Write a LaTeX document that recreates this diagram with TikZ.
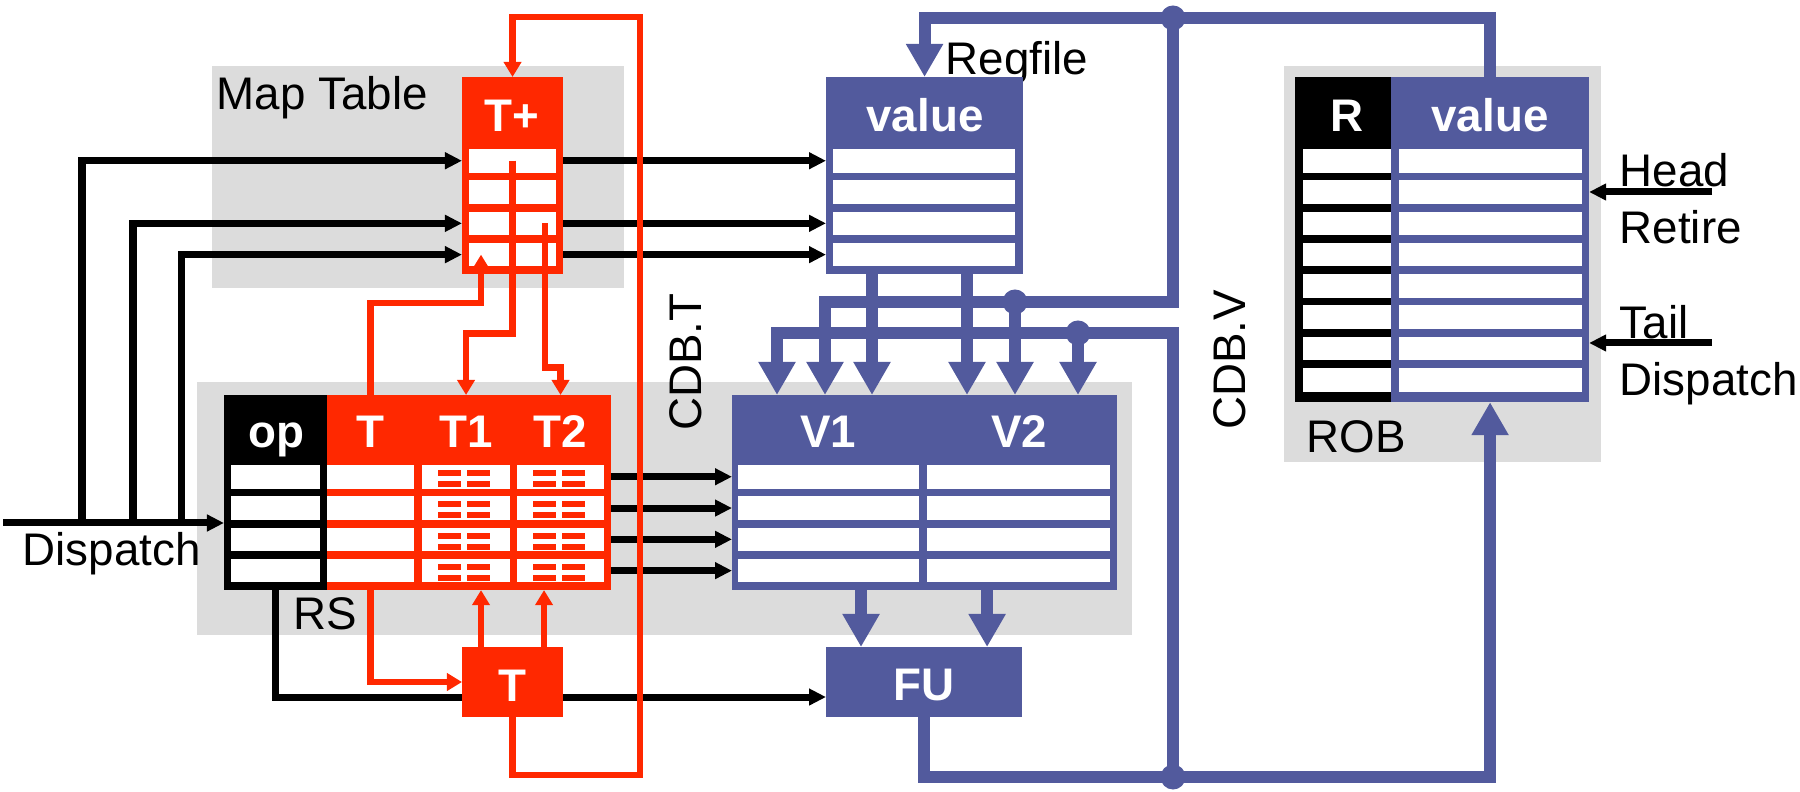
\documentclass[tikz,border=0pt]{standalone}
\usepackage{fontspec}
\setmainfont{Liberation Sans}
\usetikzlibrary{arrows.meta, calc, positioning}
\definecolor{tagRed}  {RGB}{255, 40,  0}
\definecolor{valBlue} {RGB}{ 82, 90,157}
\definecolor{areaGray}{RGB}{220,220,220}
\newcommand{\lblfont}{\fontsize{13}{15.6}\selectfont}

\begin{document}
\begin{tikzpicture}[
  x=0.01cm, y=-0.01cm,
  area/.style={rectangle, fill=areaGray, inner sep=0pt, outer sep=0pt,
    anchor=north west},
  tbl/.style={rectangle, inner sep=0pt, outer sep=0pt, anchor=north west},
  cell/.style={rectangle, fill=white, inner sep=0pt, outer sep=0pt,
    anchor=north west, minimum height=0.235cm},
  hdr/.style={font=\lblfont\bfseries, text=white, anchor=base, inner sep=0pt},
  lbl/.style={font=\lblfont, anchor=base west, inner sep=0pt},
  vlbl/.style={font=\lblfont, rotate=90, inner sep=0pt},
  blk/.style={-{Triangle[length=0.17cm, width=0.16cm]}, line width=0.07cm},
  tag/.style={draw=tagRed, line width=0.065cm},
  tagarr/.style={tag, -{Triangle[length=0.15cm, width=0.17cm]}},
  val/.style={draw=valBlue, line width=0.12cm},
  valarr/.style={val, -{Triangle[length=0.33cm, width=0.35cm]}},
  dot/.style={circle, fill=valBlue, inner sep=0pt, minimum size=0.25cm},
]
\useasboundingbox (0,0) rectangle (1800,792);

%% ── Grey areas and their labels ──────────────────────────────────────────────
\node[area, minimum width=4.12cm, minimum height=2.22cm] (mapArea) at (212,66) {};
\node[area, minimum width=9.34cm, minimum height=2.53cm] (rsArea)  at (197,382) {};
\node[area, minimum width=3.17cm, minimum height=3.96cm] (robArea) at (1284,66) {};

\node[lbl] (mapLbl)  at (216,110)  {Map Table};
\node[lbl] (rsLbl)   at (293,630)  {RS};
\node[lbl] (robLbl)  at (1306,453) {ROB};
\node[lbl] (regLbl)  at (945,75)   {Regfile};
\node[lbl] (dispLbl) at (22,566)   {Dispatch};
\node[lbl] (headLbl) at (1619,187) {Head};
\node[lbl] (retLbl)  at (1619,244) {Retire};
\node[lbl] (tailLbl) at (1619,339) {Tail};
\node[lbl] (dispRLbl) at (1619,396) {Dispatch};
\node[vlbl] (cdbTLbl) at (686,362)  {CDB.T};
\node[vlbl] (cdbVLbl) at (1230,360) {CDB.V};

%% ── Map table T+ ─────────────────────────────────────────────────────────────
\node[tbl, fill=tagRed, minimum width=1.01cm, minimum height=1.97cm] (tplus) at (462,77) {};
\node[hdr] (tplusH) at (512,132) {T+};
\foreach \i in {1,...,4}
  \node[cell, minimum width=0.87cm] (tp\i) at (469,{149+31.3*(\i-1)}) {};

%% ── Regfile ──────────────────────────────────────────────────────────────────
\node[tbl, fill=valBlue, minimum width=1.97cm, minimum height=1.97cm] (reg) at (826,77) {};
\node[hdr] (regH) at (925,132) {value};
\foreach \i in {1,...,4}
  \node[cell, minimum width=1.82cm] (rg\i) at (833,{149+31.3*(\i-1)}) {};

%% ── RS: op / T / T1 / T2 and V1 / V2 ─────────────────────────────────────────
\node[tbl, fill=black,  minimum width=1.03cm, minimum height=1.95cm] (op)   at (224,395) {};
\node[tbl, fill=tagRed, minimum width=2.84cm, minimum height=1.95cm] (rst)  at (327,395) {};
\node[tbl, fill=valBlue, minimum width=3.85cm, minimum height=1.95cm] (vtab) at (732,395) {};
\node[hdr] (opH)  at (276,448)  {op};
\node[hdr] (rsTH) at (370,448)  {T};
\node[hdr] (rsAH) at (466,448)  {T1};
\node[hdr] (rsBH) at (560,448)  {T2};
\node[hdr] (vaH)  at (828,448)  {V1};
\node[hdr] (vbH)  at (1019,448) {V2};
\foreach \i in {1,...,4} {
  \pgfmathsetmacro{\rowy}{465+31.3*(\i-1)}
  \node[cell, minimum width=0.89cm] (op\i)  at (231,\rowy) {};
  \node[cell, minimum width=0.87cm] (rsT\i) at (327,\rowy) {};
  \node[cell, minimum width=0.88cm] (rsA\i) at (422,\rowy) {};
  \node[cell, minimum width=0.87cm] (rsB\i) at (517,\rowy) {};
  \node[cell, minimum width=1.81cm] (va\i)  at (738,\rowy) {};
  \node[cell, minimum width=1.83cm] (vb\i)  at (927,\rowy) {};
}
% tag comparators in T1 / T2
\foreach \i in {1,...,4}
  \foreach \c in {rsA,rsB}
    \foreach \dx in {16,45}
      \foreach \dy in {5,16}
        \fill[tagRed] ([shift={(\dx,\dy)}]\c\i.north west) rectangle ++(23,6);

%% ── FU ───────────────────────────────────────────────────────────────────────
\node[tbl, fill=valBlue, minimum width=1.96cm, minimum height=0.70cm] (fu) at (826,647) {};
\node[hdr] (fuH) at (924,701) {FU};

%% ── ROB ──────────────────────────────────────────────────────────────────────
\node[tbl, fill=black,   minimum width=0.96cm, minimum height=3.25cm] (robR) at (1295,77) {};
\node[tbl, fill=valBlue, minimum width=1.98cm, minimum height=3.25cm] (robV) at (1391,77) {};
\node[hdr] (robRH) at (1347,132) {R};
\node[hdr] (robVH) at (1490,132) {value};
\foreach \i in {1,...,8} {
  \pgfmathsetmacro{\rowy}{149+31.3*(\i-1)}
  \node[cell, minimum width=0.88cm] (rr\i) at (1303,\rowy) {};
  \node[cell, minimum width=1.83cm] (rv\i) at (1399,\rowy) {};
}

%% ── Black dispatch paths ─────────────────────────────────────────────────────
\coordinate (dispIn) at (3,523);
\coordinate (headIn) at (1712,192);
\coordinate (tailIn) at (1712,343);
\draw[blk] (dispIn) -- (dispIn -| op.west);
\foreach \x/\r in {82/1, 133/3, 181/4} {
  \coordinate (br\r) at (\x,523);
  \draw[blk] (br\r) |- (tplus.west |- tp\r);
}
\foreach \r in {1,3,4}
  \draw[blk] (tplus.east |- tp\r) -- (reg.west |- tp\r);
\foreach \i in {1,...,4}
  \draw[blk] (rst.east |- rsB\i) -- (vtab.west |- rsB\i);
\draw[blk] (op.south) |- ([yshift=-0.15cm]fu.west);
\draw[blk] (headIn) -- (robV.east |- headIn);
\draw[blk] (tailIn) -- (robV.east |- tailIn);

%% ── Tag box T ────────────────────────────────────────────────────────────────
\node[tbl, fill=tagRed, minimum width=1.01cm, minimum height=0.70cm] (tbox) at (462,647) {};
\node[hdr] (tboxH) at (512,702) {T};

%% ── Red tag paths, CDB.T ─────────────────────────────────────────────────────
\coordinate (cdbTlo) at (640,775);
\coordinate (cdbThi) at (640,17);
\draw[tagarr] (tbox.south) |- (cdbTlo) -- (cdbThi) -| (tplus.north);
\draw[tagarr] (rsT1 |- rst.north) -- ++(0,-92) -| ([xshift=-0.315cm]tp4.center);
\draw[tagarr] (tp1.center) -- ++(0,173) -| (rsA1 |- rst.north);
\draw[tagarr] ([xshift=0.325cm]tp3.center) -- ++(0,144) -| (rsB1 |- rst.north);
\draw[tagarr] (rsT4 |- rst.south) |- (tbox.west);
\draw[tagarr] ([xshift=-0.315cm]tbox.north) -- ([xshift=-0.315cm]tbox.north |- rst.south);
\draw[tagarr] ([xshift=0.315cm]tbox.north)  -- ([xshift=0.315cm]tbox.north |- rst.south);

%% ── Blue value paths, CDB.V ──────────────────────────────────────────────────
\foreach \n/\x in {v1a/777, v1b/825, v1c/872, v2a/967, v2b/1015, v2c/1078}
  \coordinate (\n) at (\x,395);
\node[dot] (jTop) at (1173,18)  {};
\node[dot] (jV2b) at (1015,302) {};
\node[dot] (jV2c) at (1078,333) {};
\node[dot] (jBot) at (1173,777) {};

\draw[valarr] (robV.north) -- ++(0,-59) -| (reg.north);
\draw[valarr] (jTop.center) |- (jV2b.center) -| (v1b);
\draw[valarr] (jV2b.center) -- (v2b);
\draw[valarr] (reg.south -| v1c) -- (v1c);
\draw[valarr] (reg.south -| v2a) -- (v2a);
\draw[valarr] (fu.south) -- ++(0,60) -| (robV.south);
\draw[valarr] (jBot.center) |- (jV2c.center) -| (v1a);
\draw[valarr] (jV2c.center) -- (v2c);
\draw[valarr] ([xshift=-0.63cm]fu.north |- vtab.south) -- ([xshift=-0.63cm]fu.north);
\draw[valarr] ([xshift=0.63cm]fu.north |- vtab.south)  -- ([xshift=0.63cm]fu.north);

\end{tikzpicture}
\end{document}
